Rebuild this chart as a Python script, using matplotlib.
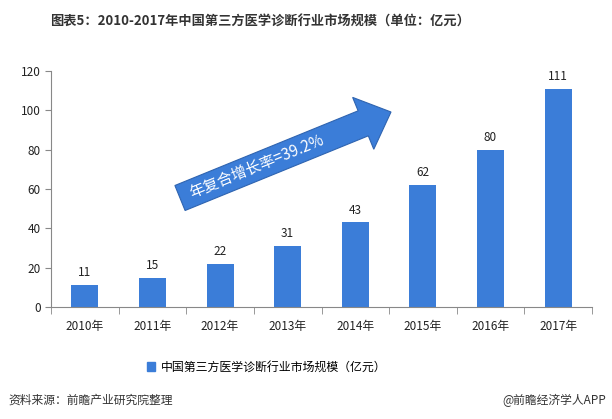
import numpy as np
import matplotlib.pyplot as plt
from matplotlib.patches import Polygon, Patch

plt.rcParams['font.family'] = ['Noto Sans CJK SC', 'DejaVu Sans']

years = ["2010年", "2011年", "2012年", "2013年", "2014年", "2015年", "2016年", "2017年"]
values = [11, 15, 22, 31, 43, 62, 80, 111]
yticks = [0, 20, 40, 60, 80, 100, 120]

W, H = 612, 419
bar_color = "#3b7dd8"

fig = plt.figure(figsize=(W / 100, H / 100), dpi=100)
ax = fig.add_axes([51 / W, 1 - 307 / H, (592 - 51) / W, (307 - 71) / H])

x = np.arange(len(years))
ax.bar(x, values, width=0.4, color=bar_color)
for xi, v in zip(x, values):
    ax.text(xi, v + 3, str(v), ha="center", va="bottom", fontsize=8.5, color="#222222")

ax.set_xlim(-0.5, len(years) - 0.5)
ax.set_ylim(0, 120)
ax.set_yticks(yticks)
ax.tick_params(axis="y", labelsize=8.5, colors="#222222", length=4, color="#888888")
ax.set_xticks(x)
ax.set_xticklabels(years, fontsize=8.5, color="#222222")
ax.tick_params(axis="x", length=0, pad=9)
ax.set_xticks(np.arange(-0.5, len(years)), minor=True)
ax.tick_params(axis="x", which="minor", length=5, color="#888888")
for s in ["top", "right"]:
    ax.spines[s].set_visible(False)
for s in ["left", "bottom"]:
    ax.spines[s].set_color("#888888")

# growth arrow (pixel coordinates of the picture)
tail = np.array([180.0, 198.0])
tip = np.array([391.0, 112.0])
d = tip - tail
L = np.hypot(*d)
u = d / L
n = np.array([u[1], -u[0]])  # perpendicular
shaft_w, head_w, head_l = 27, 56, 30
base = tip - u * head_l
pts = [
    tail + n * shaft_w / 2,
    base + n * shaft_w / 2,
    base + n * head_w / 2,
    tip,
    base - n * head_w / 2,
    base - n * shaft_w / 2,
    tail - n * shaft_w / 2,
]
pts = [(p[0] / W, 1 - p[1] / H) for p in pts]
fig.patches.append(Polygon(pts, closed=True, transform=fig.transFigure,
                           facecolor=bar_color, edgecolor="#2f64b0", lw=0.8))
ang = np.degrees(np.arctan2(-d[1], d[0]))
mid = tail + u * (L - head_l) * 0.42
fig.text(mid[0] / W, 1 - mid[1] / H, "年复合增长率=39.2%", rotation=ang,
         rotation_mode="anchor", ha="center", va="center", color="white", fontsize=11)

fig.text(260 / W, 1 - 22 / H, "图表5：2010-2017年中国第三方医学诊断行业市场规模（单位：亿元）",
         ha="center", va="center", fontsize=9.5, fontweight="bold", color="#333333")

fig.legend(handles=[Patch(color=bar_color, label="中国第三方医学诊断行业市场规模（亿元）")],
           loc="center", bbox_to_anchor=(267 / W, 1 - 367 / H), frameon=False,
           fontsize=8.6, handlelength=0.7, handleheight=0.7, handletextpad=0.5)

fig.text(8 / W, 1 - 400 / H, "资料来源：前瞻产业研究院整理", ha="left", va="center",
         fontsize=8.5, style="italic", color="#333333")
fig.text(606 / W, 1 - 400 / H, "@前瞻经济学人APP", ha="right", va="center",
         fontsize=8.5, color="#333333")

fig.savefig("out.png", dpi=100)
